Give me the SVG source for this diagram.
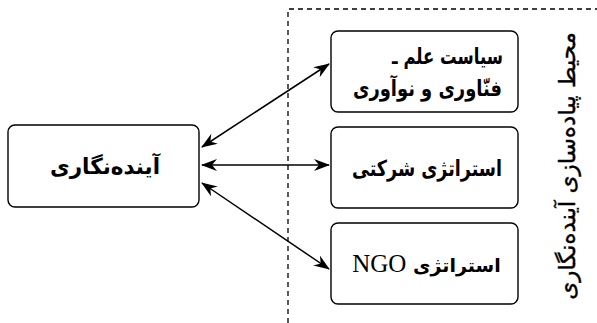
<svg xmlns="http://www.w3.org/2000/svg" width="597" height="323" viewBox="0 0 597 323">
<style>
.box{fill:#fff;stroke:#000;stroke-width:1.4}
.t{font-family:"DejaVu Sans",sans-serif;font-weight:bold;font-size:22px;fill:#000;text-anchor:middle}
.c{stroke:#000;stroke-width:1.5;fill:none;marker-start:url(#ah);marker-end:url(#ah)}
.d{stroke:#000;stroke-width:1.3;fill:none;stroke-dasharray:5,4}
</style>
<defs>
<marker id="ah" viewBox="0 0 16 12" refX="15" refY="6" markerWidth="16" markerHeight="12" markerUnits="userSpaceOnUse" orient="auto-start-reverse">
<path d="M0,0 L16,6 L0,12 L5,6 Z" fill="#000"/>
</marker>
</defs>
<rect width="597" height="323" fill="#fff"/>
<g id="boundary">
<path class="d" d="M288,323 V9 H597"/>
<text transform="translate(567,166) rotate(-90)" font-family="DejaVu Sans,sans-serif" font-size="23" text-anchor="middle" dominant-baseline="central" direction="rtl" stroke="#000" stroke-width="0.4">محیط پیاده‌سازی آینده‌نگاری</text>
</g>
<g id="connectors">
<line class="c" x1="202" y1="147" x2="329" y2="64"/>
<line class="c" x1="202" y1="165" x2="329" y2="165"/>
<line class="c" x1="202" y1="183" x2="329" y2="269"/>
</g>
<g id="n0">
<rect class="box" x="8" y="125" width="191" height="82" rx="7"/>
<text class="t" x="105" y="174" direction="rtl" textLength="110" lengthAdjust="spacingAndGlyphs">آینده‌نگاری</text>
</g>
<g id="n1">
<rect class="box" x="331" y="31" width="187" height="81" rx="7"/>
<text class="t" x="447.5" y="64" direction="rtl" textLength="111" lengthAdjust="spacingAndGlyphs">سیاست علم ـ</text>
<text class="t" x="427.5" y="96" direction="rtl" textLength="149" lengthAdjust="spacingAndGlyphs">فنّاوری و نوآوری</text>
</g>
<g id="n2">
<rect class="box" x="331" y="127" width="187" height="81" rx="7"/>
<text class="t" x="427" y="176" direction="rtl" textLength="150" lengthAdjust="spacingAndGlyphs">استراتژی شرکتی</text>
</g>
<g id="n3">
<rect class="box" x="331" y="223" width="187" height="81" rx="7"/>
<text class="t" x="426.5" y="272" direction="rtl" style="font-size:19px">استراتژی <tspan style="font-family:'Liberation Serif',serif;font-weight:normal;font-size:25px">NGO</tspan></text>
</g>
</svg>
